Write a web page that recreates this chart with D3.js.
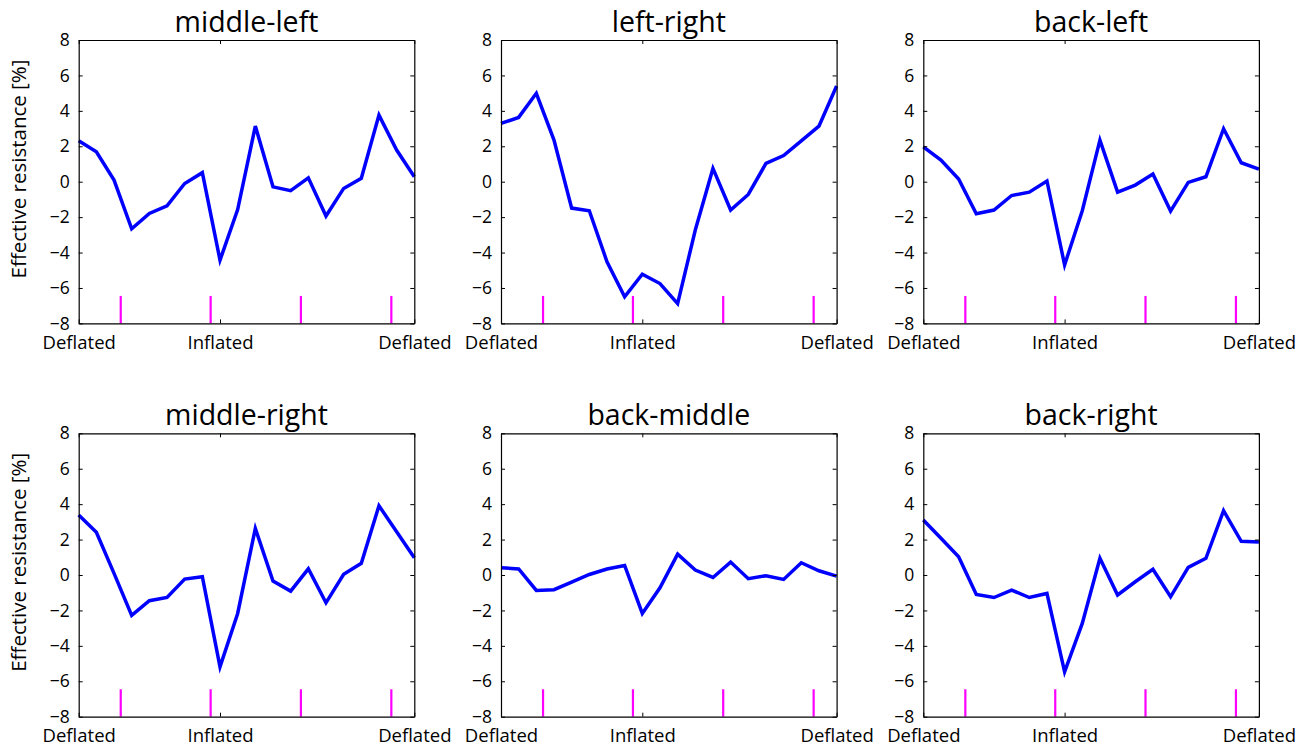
<!DOCTYPE html>
<html>
<head>
<meta charset="utf-8">
<script src="https://cdn.jsdelivr.net/npm/d3@7"></script>
<style>
  body { margin: 0; background: #fff; }
  text { font-family: "Open Sans", sans-serif; fill: #000; }
</style>
</head>
<body>
<svg id="chart" width="1307" height="749"></svg>
<script>
// Data
const titles = ["middle-left", "left-right", "back-left", "middle-right", "back-middle", "back-right"];
const middleLeft = [2.31, 1.69, 0.09, -2.66, -1.79, -1.36, -0.1, 0.51, -4.43, -1.57, 3.14, -0.29, -0.51, 0.22, -1.94, -0.38, 0.19, 3.76, 1.79, 0.28];
const leftRight = [3.29, 3.63, 4.99, 2.35, -1.49, -1.64, -4.52, -6.5, -5.22, -5.75, -6.88, -2.73, 0.75, -1.6, -0.72, 1.03, 1.48, 2.31, 3.14, 5.4];
const backLeft = [1.97, 1.22, 0.15, -1.81, -1.6, -0.78, -0.59, 0.04, -4.7, -1.64, 2.35, -0.59, -0.19, 0.43, -1.66, -0.04, 0.28, 2.99, 1.07, 0.71];
const middleRight = [3.39, 2.41, 0.09, -2.28, -1.45, -1.27, -0.23, -0.1, -5.18, -2.17, 2.63, -0.34, -0.91, 0.35, -1.57, 0.04, 0.66, 3.91, 2.44, 0.98];
const backMiddle = [0.41, 0.34, -0.87, -0.83, -0.4, 0.03, 0.34, 0.54, -2.17, -0.72, 1.18, 0.28, -0.14, 0.73, -0.21, -0.04, -0.25, 0.69, 0.24, -0.06];
const backRight = [3.1, 2.07, 1.03, -1.1, -1.27, -0.85, -1.27, -1.04, -5.47, -2.73, 0.94, -1.13, -0.38, 0.32, -1.23, 0.43, 0.94, 3.63, 1.9, 1.86];
const series = [middleLeft, leftRight, backLeft, middleRight, backMiddle, backRight];
const xTickValues = [0, 8, 19];
const xTickLabels = ["Deflated", "Inflated", "Deflated"];
const yTickValues = [-8, -6, -4, -2, 0, 2, 4, 6, 8];
const markerX = [2.38, 7.47, 12.58, 17.7];
const markerTop = -6.45;
const yTitle = "Effective resistance [%]";

const svg = d3.select("#chart");

// Layout
const colLeft = [78.7, 501, 923.3];
const rowTop = [40, 433.3];
const innerWidth = 335.6;
const innerHeight = 283.4;

const xScale = d3.scaleLinear().domain([0, 19]).range([0, innerWidth]);
const yScale = d3.scaleLinear().domain([-8, 8]).range([innerHeight, 0]);

series.forEach((values, i) => {
  const col = i % 3;
  const row = Math.floor(i / 3);
  const g = svg.append("g")
    .attr("transform", `translate(${colLeft[col]},${rowTop[row]})`);

  // line
  const lineGenerator = d3.line()
    .x((d, j) => xScale(j))
    .y((d) => yScale(d));
  g.append("path")
    .attr("d", lineGenerator(values))
    .attr("fill", "none")
    .attr("stroke", "#0000ff")
    .attr("stroke-width", 3.5)
    .attr("stroke-linejoin", "miter");

  // magenta markers
  g.selectAll(".marker")
    .data(markerX)
    .enter()
    .append("line")
    .attr("class", "marker")
    .attr("x1", (d) => xScale(d))
    .attr("x2", (d) => xScale(d))
    .attr("y1", yScale(-8))
    .attr("y2", yScale(markerTop))
    .attr("stroke", "#ff00ff")
    .attr("stroke-width", 2.2);

  // axes (inward ticks)
  const yLeft = d3.axisLeft(yScale).tickValues(yTickValues).tickSizeInner(-4).tickSizeOuter(0).tickPadding(9);
  const yRight = d3.axisRight(yScale).tickValues(yTickValues).tickSizeInner(-4).tickSizeOuter(0).tickFormat("");
  const xBottom = d3.axisBottom(xScale).tickValues(xTickValues).tickSizeInner(-4).tickSizeOuter(0)
    .tickFormat((d, k) => xTickLabels[k]).tickPadding(12);
  const xTop = d3.axisTop(xScale).tickValues(xTickValues).tickSizeInner(-4).tickSizeOuter(0).tickFormat("");

  const yAxisG = g.append("g").call(yLeft);
  yAxisG.selectAll("text").attr("font-size", "17.5px").attr("font-family", "Open Sans");
  g.append("g").attr("transform", `translate(${innerWidth},0)`).call(yRight);
  const xAxisG = g.append("g").attr("transform", `translate(0,${innerHeight})`).call(xBottom);
  xAxisG.selectAll("text").attr("font-size", "18.5px").attr("font-family", "Open Sans");
  g.append("g").call(xTop);

  g.selectAll(".domain").attr("stroke", "#000").attr("stroke-width", 1.2);
  g.selectAll(".tick line").attr("stroke", "#000").attr("stroke-width", 1);

  // title
  g.append("text")
    .attr("x", innerWidth / 2)
    .attr("y", -8.5)
    .attr("text-anchor", "middle")
    .attr("font-size", "28.5px")
    .text(titles[i]);

  // y title only on the left column
  if (col === 0) {
    g.append("text")
      .attr("transform", "rotate(-90)")
      .attr("x", -129)
      .attr("y", -53)
      .attr("text-anchor", "middle")
      .attr("font-size", "20.5px")
      .text(yTitle);
  }
});
</script>
</body>
</html>
